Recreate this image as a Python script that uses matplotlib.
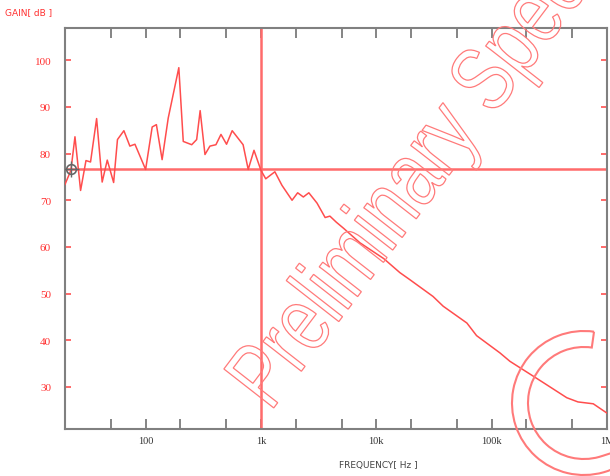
import matplotlib
matplotlib.use("Agg")
import matplotlib.pyplot as plt
from matplotlib.textpath import TextPath
from matplotlib.patches import PathPatch, Wedge
from matplotlib.font_manager import FontProperties
from matplotlib.transforms import Affine2D
from matplotlib.ticker import FixedLocator, NullFormatter

# ---- data ----
freq_hz = [20, 22.5, 24.4, 27.3, 30.4, 33.3, 37.6, 42, 46.5, 52.8, 57, 64.8, 73, 80.8,
           100, 114, 124, 139, 157, 194, 212, 251, 277, 297, 327, 361, 407, 450, 503,
           563, 700, 775, 870, 1000, 1100, 1320, 1520, 1860, 2080, 2330, 2600, 3060,
           3600, 3960, 4500, 5200, 7200, 11600, 16000, 19500, 31000, 38000, 61000,
           74000, 118000, 144000, 230000, 282000, 448000, 560000, 760000, 1000000]
gain_db = [73.4, 76.4, 83.6, 72.1, 78.5, 78.2, 87.5, 73.9, 78.6, 73.8, 83.0, 84.9, 81.6, 82.0,
           76.6, 85.7, 86.2, 78.7, 87.6, 98.4, 82.6, 81.9, 83.0, 89.2, 79.8, 81.6, 81.9, 84.1, 82.0,
           84.9, 81.9, 76.6, 80.7, 76.4, 74.6, 76.1, 73.2, 70.0, 71.6, 70.7, 71.6, 69.4,
           66.3, 66.6, 65.3, 64.0, 60.9, 57.5, 54.5, 53.0, 49.4, 47.3, 43.7,
           41.0, 37.3, 35.5, 32.3, 30.9, 27.7, 26.8, 26.4, 24.4]
cursor_freq = 1000
cursor_gain = 76.6
marker_freq = 22.5
major_ticks = [100, 1000, 10000, 100000, 1000000]
major_labels = ["100", "1k", "10k", "100k", "1M"]
minor_ticks = [50, 200, 500, 2000, 5000, 20000, 50000, 200000, 500000]
y_ticks = [30, 40, 50, 60, 70, 80, 90, 100]

W, H = 610, 477
fig = plt.figure(figsize=(W / 100, H / 100), dpi=100)
ax = fig.add_axes([65 / W, 1 - 430 / H, (607 - 65) / W, (430 - 29) / H])

ax.set_xscale("log")
ax.set_xlim(20, 1e6)
ax.set_ylim(21, 106.9)

ax.plot(freq_hz, gain_db, color="#ff4d4d", lw=1.1, zorder=3)
ax.axvline(cursor_freq, color="#ff6b6b", lw=1.8, zorder=2)
ax.axhline(cursor_gain, color="#ff6b6b", lw=1.8, zorder=2)
ax.plot([marker_freq], [cursor_gain], marker="o", ms=7, mfc="none", mec="#666666", mew=1.2, zorder=4)
ax.plot([marker_freq], [cursor_gain], marker="+", ms=11, mec="#666666", mew=1.0, zorder=4)

for s in ax.spines.values():
    s.set_color("#808080")
    s.set_linewidth(1.5)

ax.xaxis.set_major_locator(FixedLocator(major_ticks))
ax.set_xticklabels(major_labels)
ax.xaxis.set_minor_locator(FixedLocator(minor_ticks))
ax.xaxis.set_minor_formatter(NullFormatter())
ax.tick_params(axis="x", which="both", direction="in", top=True, bottom=True,
               length=7, width=1.2, color="#707070", labelsize=7.5, labelcolor="#333333", pad=5)
ax.set_yticks(y_ticks)
ax.tick_params(axis="y", which="both", direction="in", left=True, right=True,
               length=4, width=1.2, color="#ff5050", labelsize=8, labelcolor="#ff3030", pad=10)
for lab in ax.get_xticklabels() + ax.get_yticklabels():
    lab.set_family("Liberation Serif")

fig.text(5 / W, 1 - 13 / H, "GAIN[ dB ]", color="#ff3030", fontsize=6.5, va="center", ha="left")
fig.text(378 / W, 1 - 466 / H, "FREQUENCY[ Hz ]", color="#444444", fontsize=6.5, va="center", ha="center")

# ---- watermark ----
tp = TextPath((0, 0), "Preliminary Specification", size=1,
              prop=FontProperties(family="Liberation Sans"))
tr = Affine2D.from_values(42.2, 56.0, -72.5, 56.6, 270.3, 63.5)
wm = PathPatch(tr.transform_path(tp), facecolor="none", edgecolor="#ff7a7a", lw=0.9,
               transform=None)
fig.add_artist(wm)
cw = Wedge((584, H - 404), 72, 82, 315, width=16, facecolor="none",
           edgecolor="#ff7a7a", lw=1.5, transform=None)
fig.add_artist(cw)

fig.savefig("out.png", dpi=100)
